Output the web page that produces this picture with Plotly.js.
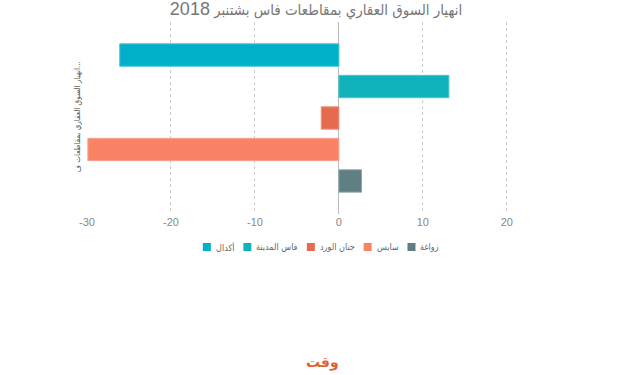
<!DOCTYPE html>
<html><head><meta charset="utf-8">
<script src="https://cdn.plot.ly/plotly-3.0.1.min.js"></script>
<style>html,body{margin:0;padding:0;background:#fff}#chart{width:632px;height:375px}</style>
</head><body><div id="chart"></div>
<script>
const chartTitle = "انهيار السوق العقاري بمقاطعات فاس بشتنبر";
const titleYear = "2018";
const category = ["انهيار السوق العقاري بمقاطعات فاس بشتنبر 2018"];
const categoryTick = ["انهيار السوق العقاري بمقاطعات ف..."];
const seriesNames = ["أكدال", "فاس المدينة", "جنان الورد", "سايس", "زواغة"];
const seriesValues = [-26.1, 13.1, -2.1, -29.9, 2.7];
const seriesColors = ["#00b0c9", "#10b3bc", "#e66b4e", "#fa8366", "#607f82"];
const lineColors = ["#40c4d7", "#4cc6cd", "#ec8f7a", "#fba38e", "#8fa5a7"];
const xTicks = [-30, -20, -10, 0, 10, 20];
const xTickLabels = ["-30", "-20", "-10", "0", "10", "20"];
const footerText = "وقت";

const traces = seriesNames.map((n, i) => ({
  type: "bar", orientation: "h", name: n,
  y: category, x: [seriesValues[i]],
  marker: {color: seriesColors[i], line: {color: lineColors[i], width: 1}},
  hoverinfo: "x+name", showlegend: false
}));

// custom compact legend (square then label), laid out from measured text widths
const legSize = 9;
const legFamily = "'DejaVu Sans Condensed', 'Liberation Sans', sans-serif";
const cv = document.createElement("canvas").getContext("2d");
cv.font = legSize + "px " + legFamily;
const W = 632, L = 87, R = 79, T = 22, B = 161;
const pw = W - L - R, ph = 375 - T - B;
const sq = 8, gapText = 3, gapItem = 11;
const widths = seriesNames.map(n => cv.measureText(n).width);
const total = widths.reduce((a, w) => a + sq + gapText + w, 0) + gapItem * (seriesNames.length - 1);
let cx = 320 - total / 2;
const legY = 247;
const shapes = [], annotations = [];
const px2x = p => (p - L) / pw, py2y = p => (375 - B - p) / ph;
seriesNames.forEach((n, i) => {
  shapes.push({type: "rect", xref: "paper", yref: "paper",
    x0: px2x(cx), x1: px2x(cx + sq), y0: py2y(legY + sq / 2), y1: py2y(legY - sq / 2),
    fillcolor: seriesColors[i], line: {width: 0}});
  annotations.push({text: n, xref: "paper", yref: "paper", x: px2x(cx + sq + gapText), y: py2y(legY),
    xanchor: "left", yanchor: "middle", showarrow: false,
    font: {size: legSize, family: legFamily, color: "#666"}});
  cx += sq + gapText + widths[i] + gapItem;
});
annotations.push({text: "<b>" + footerText + "</b>", xref: "paper", yref: "paper", x: px2x(322), y: py2y(373),
  yanchor: "bottom", showarrow: false, font: {size: 14, color: "#e0612e", family: "DejaVu Sans, sans-serif"}});

const layout = {
  width: 632, height: 375,
  margin: {l: L, r: R, t: T, b: B},
  font: {family: "Liberation Sans, 'DejaVu Sans Condensed', sans-serif", color: "#666"},
  title: {text: chartTitle + " <span style='font-size:18px'>" + titleYear + "</span>",
    font: {size: 15, color: "#777", family: "Liberation Sans, 'DejaVu Sans Condensed', sans-serif"},
    x: 0.5, xref: "container", y: 0.973, yref: "container", yanchor: "middle"},
  barmode: "group", bargap: 0.18, bargroupgap: 0.29,
  xaxis: {range: [-30, 25.5], tickvals: xTicks, ticktext: xTickLabels, showgrid: true, gridcolor: "#ccc", griddash: "dot",
    zeroline: true, zerolinecolor: "#bbb", zerolinewidth: 1, tickfont: {size: 11, color: "#888"}, showline: false, fixedrange: true},
  yaxis: {autorange: "reversed", tickvals: category, ticktext: categoryTick, tickangle: -90, ticklabelstandoff: 4,
    tickfont: {size: 8, color: "#555", family: "DejaVu Sans Condensed, sans-serif"}, showgrid: false, zeroline: false, showline: false, fixedrange: true},
  showlegend: false,
  shapes: shapes,
  annotations: annotations,
  plot_bgcolor: "#fff", paper_bgcolor: "#fff"
};
Plotly.newPlot("chart", traces, layout, {displayModeBar: false, staticPlot: true});
</script></body></html>
